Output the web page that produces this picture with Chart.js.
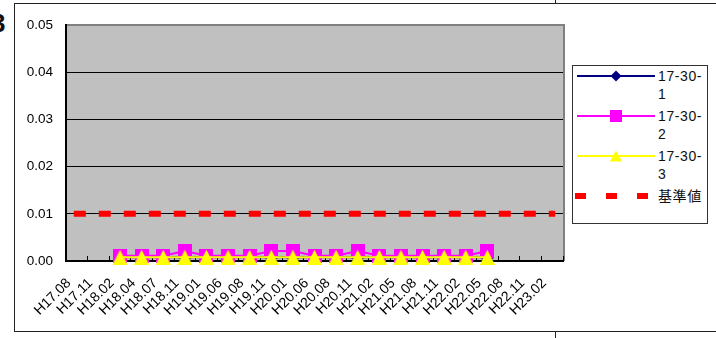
<!DOCTYPE html>
<html>
<head>
<meta charset="utf-8">
<title>17-30 chart</title>
<script src="https://cdn.jsdelivr.net/npm/chart.js@4.4.1/dist/chart.umd.min.js"></script>
<style>
  body { margin: 0; width: 716px; height: 338px; overflow: hidden; position: relative; background: #fff;
         font-family: "Liberation Sans", Arial, "Noto Sans CJK JP", sans-serif; }
  #frame { position: absolute; left: 14px; top: 3px; width: 720px; height: 327px; border: 1px solid #222; border-right: none; }
  .vl { position: absolute; left: 555px; width: 1px; background: #222; }
  #three { position: absolute; left: -9px; top: 8px; font: bold 26px "Liberation Sans", Arial, sans-serif; color: #111; }
  #wrap { position: absolute; left: 0; top: 0; width: 716px; height: 338px; }
  #legend { position: absolute; left: 572px; top: 65px; width: 134px; height: 157px; border: 1px solid #333; background: #fff; }
  .item { position: absolute; left: 0; width: 134px; }
  .item svg { position: absolute; left: 4px; }
  .item span { position: absolute; left: 85px; width: 50px; font-size: 14px; line-height: 18px; color: #111;
               word-break: break-all; letter-spacing: 0.6px; font-family: "Liberation Sans", Arial, "Noto Sans CJK JP", sans-serif; }
</style>
</head>
<body>
<div id="frame"></div>
<div class="vl" style="top:0;height:3px"></div>
<div class="vl" style="top:331px;height:7px"></div>
<div id="three">3</div>
<div id="wrap"><canvas id="chart" width="716" height="338"></canvas></div>
<div id="legend"></div>

<script>
// categories (survey dates)
const labels = ['H17.08', 'H17.11', 'H18.02', 'H18.04', 'H18.07', 'H18.11', 'H19.01', 'H19.06', 'H19.08', 'H19.11',
                'H20.01', 'H20.06', 'H20.08', 'H20.11', 'H21.02', 'H21.05', 'H21.08', 'H21.11', 'H22.02', 'H22.05',
                'H22.08', 'H22.11', 'H23.02'];

// series names
const seriesNames = ['17-30-1', '17-30-2', '17-30-3', '基準値'];

// series values
const well1 = [null, null, 0.0008, 0.0008, 0.0008, 0.0008, 0.0008, 0.0008, 0.0008, 0.0008,
               0.0008, 0.0008, 0.0008, 0.0008, 0.0008, 0.0008, 0.0008, 0.0008, 0.0008, 0.0008,
               null, null, null];
const well2 = [null, null, 0.0011, 0.0011, 0.0011, 0.0021, 0.0011, 0.0011, 0.0011, 0.0021,
               0.0021, 0.0011, 0.0011, 0.0021, 0.0011, 0.0011, 0.0011, 0.0011, 0.0011, 0.0021,
               null, null, null];
const well3 = [null, null, 0.0008, 0.0008, 0.0008, 0.0008, 0.0008, 0.0008, 0.0008, 0.0008,
               0.0008, 0.0008, 0.0008, 0.0008, 0.0008, 0.0008, 0.0008, 0.0008, 0.0008, 0.0008,
               null, null, null];
const standard = [0.01, 0.01, 0.01, 0.01, 0.01, 0.01, 0.01, 0.01, 0.01, 0.01,
                  0.01, 0.01, 0.01, 0.01, 0.01, 0.01, 0.01, 0.01, 0.01, 0.01,
                  0.01, 0.01, 0.01];

// y axis ticks
const yMin = 0, yMax = 0.05, yStep = 0.01;

const colors = ['#000080', '#FF00FF', '#FFFF00', '#FF0000'];

// Excel-like marker images
function makeMarker(shape, color, w, h) {
    const c = document.createElement('canvas');
    c.width = w; c.height = h;
    const g = c.getContext('2d');
    g.fillStyle = color;
    g.beginPath();
    if (shape === 'diamond') {
        g.moveTo(w / 2, 0); g.lineTo(w, h / 2); g.lineTo(w / 2, h); g.lineTo(0, h / 2);
    } else if (shape === 'triangle') {
        g.moveTo(w / 2, 0); g.lineTo(w, h); g.lineTo(0, h);
    } else {
        g.rect(0, 0, w, h);
    }
    g.closePath();
    g.fill();
    return c;
}

const diamond = makeMarker('diamond', colors[0], 14, 14);
const square = makeMarker('square', colors[1], 14, 14);
const triangle = makeMarker('triangle', colors[2], 15, 15);

// gray plot area + gray frame on the right
const plotArea = {
    id: 'plotArea',
    beforeDraw(chart) {
        const { ctx, chartArea: a } = chart;
        ctx.save();
        ctx.fillStyle = '#C0C0C0';
        ctx.fillRect(a.left, a.top, a.right - a.left, a.bottom - a.top);
        ctx.strokeStyle = '#808080';
        ctx.lineWidth = 2;
        ctx.beginPath();
        ctx.moveTo(a.left, a.top);
        ctx.lineTo(a.right + 1, a.top);
        ctx.lineTo(a.right + 1, a.bottom);
        ctx.stroke();
        ctx.restore();
    }
};

const chart = new Chart(document.getElementById('chart'), {
    type: 'line',
    data: {
        labels: labels,
        datasets: [
            { label: seriesNames[0], data: well1, borderColor: colors[0], backgroundColor: colors[0],
              borderWidth: 2, pointStyle: diamond, order: 3, clip: false },
            { label: seriesNames[1], data: well2, borderColor: colors[1], backgroundColor: colors[1],
              borderWidth: 2, pointStyle: square, order: 2, clip: false },
            { label: seriesNames[2], data: well3, borderColor: colors[2], backgroundColor: colors[2],
              borderWidth: 2, pointStyle: triangle, order: 1, clip: false },
            { label: seriesNames[3], data: standard, borderColor: colors[3], backgroundColor: colors[3],
              borderWidth: 6, borderDash: [6, 19], borderCapStyle: 'square', pointRadius: 0, order: 0 }
        ]
    },
    options: {
        responsive: false,
        animation: false,
        layout: { padding: { left: 0, top: 25, right: 716 - 563, bottom: 0 } },
        plugins: { legend: { display: false }, tooltip: { enabled: false } },
        scales: {
            x: {
                type: 'category',
                offset: true,
                afterFit: s => { s.height = 338 - 261; },
                grid: { offset: true, drawOnChartArea: false, drawTicks: true, tickLength: -5, color: '#000', lineWidth: 1 },
                border: { color: '#000', width: 2 },
                ticks: { autoSkip: false, minRotation: 45, maxRotation: 45, padding: 19, labelOffset: -8,
                         color: '#000', font: { family: '"Liberation Sans", Arial', size: 14 } }
            },
            y: {
                min: yMin, max: yMax,
                afterFit: s => { s.width = 66; },
                grid: { drawTicks: false, lineWidth: 1,
                        color: c => (c.tick && c.tick.value >= yMax - 1e-9) ? '#808080' : '#000' },
                border: { color: '#000', width: 2 },
                ticks: { stepSize: yStep, padding: 13, color: '#000',
                         font: { family: '"Liberation Sans", Arial', size: 13.5 },
                         callback: v => v.toFixed(2) }
            }
        }
    },
    plugins: [plotArea]
});

// legend built from the same series names / colours
const legend = document.getElementById('legend');
const sampleSvg = [
    '<line x1="0" y1="7" x2="78" y2="7" stroke="#000080" stroke-width="2"/><polygon points="39,1.5 44.5,7 39,12.5 33.5,7" fill="#000080"/>',
    '<line x1="0" y1="7" x2="78" y2="7" stroke="#FF00FF" stroke-width="2"/><rect x="33" y="1" width="12" height="12" fill="#FF00FF"/>',
    '<line x1="0" y1="7" x2="78" y2="7" stroke="#FFFF00" stroke-width="2"/><polygon points="39,1.5 45,12.5 33,12.5" fill="#FFFF00"/>',
    '<rect x="-2" y="4" width="11" height="6" fill="#FF0000"/><rect x="29" y="4" width="11" height="6" fill="#FF0000"/><rect x="60" y="4" width="11" height="6" fill="#FF0000"/>'
];
const itemTops = [10, 50, 90, 130];
seriesNames.forEach((name, i) => {
    const item = document.createElement('div');
    item.className = 'item';
    item.style.top = (itemTops[i] - 9) + 'px';
    item.innerHTML = '<svg width="80" height="14" style="top:2px" overflow="visible">' + sampleSvg[i] + '</svg>' +
                     '<span style="top:0">' + name + '</span>';
    legend.appendChild(item);
});
</script>
</body>
</html>
